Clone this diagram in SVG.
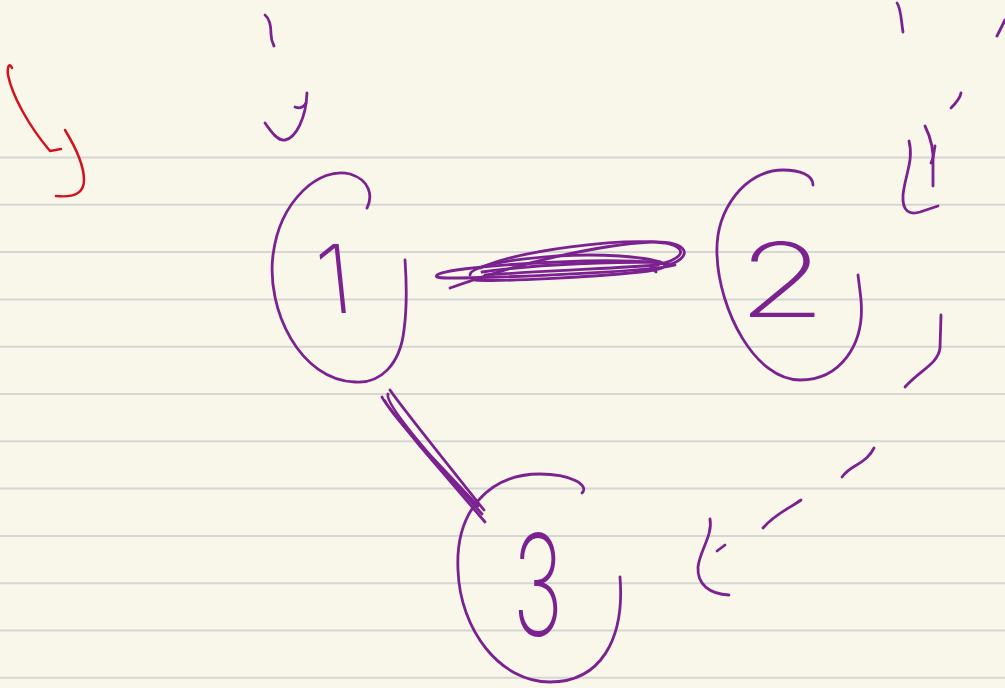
<svg xmlns="http://www.w3.org/2000/svg" width="1005" height="688" viewBox="0 0 1005 688">
<style>
.rule{stroke:#d6d6d4;stroke-width:2}
.ink{fill:none;stroke:#7b2290;stroke-width:2.8;stroke-linecap:round;stroke-linejoin:round}
.red{fill:none;stroke:#d3121c;stroke-width:2.5;stroke-linecap:round;stroke-linejoin:round}
.num{fill:#7b2290;font-family:Inter,Roboto,Lato,"DejaVu Sans",sans-serif;font-weight:200;text-anchor:middle}
</style>
<rect width="1005" height="688" fill="#f9f7e9"/>
<g id="paper-lines">
<line class="rule" x1="0" y1="157.5" x2="1005" y2="157.5"/>
<line class="rule" x1="0" y1="204.8" x2="1005" y2="204.8"/>
<line class="rule" x1="0" y1="252.1" x2="1005" y2="252.1"/>
<line class="rule" x1="0" y1="299.4" x2="1005" y2="299.4"/>
<line class="rule" x1="0" y1="346.7" x2="1005" y2="346.7"/>
<line class="rule" x1="0" y1="394" x2="1005" y2="394"/>
<line class="rule" x1="0" y1="441.3" x2="1005" y2="441.3"/>
<line class="rule" x1="0" y1="488.6" x2="1005" y2="488.6"/>
<line class="rule" x1="0" y1="535.9" x2="1005" y2="535.9"/>
<line class="rule" x1="0" y1="583.2" x2="1005" y2="583.2"/>
<line class="rule" x1="0" y1="630.5" x2="1005" y2="630.5"/>
<line class="rule" x1="0" y1="677.8" x2="1005" y2="677.8"/>
</g>
<g id="marks">
<path class="red" d="M 12,68 C 10,63 7,65 8,75 C 12,95 28,125 50,151 L 61,149"/>
<path class="red" d="M 65,130 C 76,148 84,165 84,180 C 84,192 76,198 56,196"/>
<path class="ink" d="M 265,15 C 270,19 271,28 271,34 C 271,40 273,44 274,46"/>
<path class="ink" d="M 265,123 C 272,133 278,141 285,140 C 296,138 306,118 307,93"/>
<path class="ink" d="M 295,107 C 300,109 304,107 306,103"/>
<path class="ink" d="M 897,3 C 901,8 901,20 903,32"/>
<path class="ink" d="M 997,36 L 1005,20"/>
<path class="ink" d="M 961,93 C 960,99 955,104 951,108"/>
<path class="ink" d="M 925,126 C 931,138 934,150 933,165 L 933,186"/>
<path class="ink" d="M 935,146 L 933,158 L 931,163"/>
<path class="ink" d="M 909,141 C 914,160 905,175 903,195 C 902,212 910,215 920,212 L 938,206"/>
<path class="ink" d="M 941,315 L 940,348 C 938,364 920,370 905,387"/>
<path class="ink" d="M 874,448 C 870,456 865,460 855,466 C 848,470 845,473 842,477"/>
<path class="ink" d="M 801,500 C 790,508 775,514 763,528"/>
<path class="ink" d="M 725,545 L 717,551"/>
<path class="ink" d="M 710,519 C 713,535 700,550 698,567 C 697,585 710,594 729,595"/>
</g>
<g id="connectors">
<g id="edge-1-2">
<path class="ink" d="M 450,288 C 520,262 600,245 650,242 C 690,240 695,258 665,266"/>
<path class="ink" d="M 437,277 C 430,272 480,265 560,262 C 620,259 660,262 675,265 C 660,270 560,275 500,277 C 460,278 440,279 437,277"/>
<path class="ink" d="M 470,275 C 470,262 560,252 620,256 C 670,260 680,268 640,272 C 590,277 500,282 475,280"/>
<path class="ink" d="M 480,268 C 520,250 620,238 665,243 C 690,248 685,260 650,266 L 656,272"/>
<path class="ink" d="M 485,275 C 560,270 620,268 658,265"/>
<path class="ink" d="M 482,272 C 540,264 600,262 660,262"/>
</g>
<g id="edge-1-3">
<path class="ink" d="M 382,397 C 384,402 392,412 420,446 L 485,522"/>
<path class="ink" d="M 390,390 C 400,405 440,455 484,510"/>
<path class="ink" d="M 385,401 C 392,416 440,466 482,514"/>
<path class="ink" d="M 388,394 C 386,400 400,420 430,455 L 478,506"/>
</g>
</g>
<g id="node1">
<path class="ink" d="M 367,208 C 373,196 370,180 350,174 C 320,166 280,200 273,255 C 266,310 300,380 355,382 C 380,384 400,365 404,330 C 408,300 406,275 405,260"/>
<text class="num" x="335" y="313" font-size="95" transform="skewX(6) translate(-30 0)">1</text>
</g>
<g id="node2">
<path class="ink" d="M 813,185 C 813,175 800,170 783,170 C 745,170 715,210 717,255 C 719,310 755,380 800,380 C 840,380 865,345 861,300 C 860,290 859,283 858,275"/>
<text class="num" x="782" y="317" font-size="103" transform="translate(782 0) scale(1.4 1) translate(-782 0)">2</text>
</g>
<g id="node3">
<path class="ink" d="M 582,493 C 590,485 570,474 540,474 C 490,474 455,510 458,570 C 460,630 500,682 550,682 C 600,682 625,640 620,577"/>
<text class="num" x="538" y="636" font-size="141" transform="translate(538 0) scale(0.6 1) translate(-538 0)">3</text>
</g>
</svg>
